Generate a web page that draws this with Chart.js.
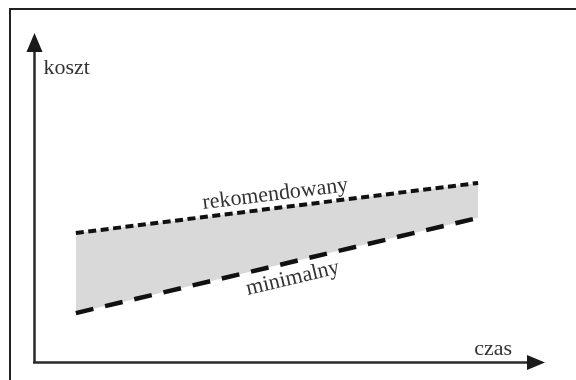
<!DOCTYPE html>
<html lang="pl">
<head>
    <meta charset="UTF-8">
    <title>koszt / czas</title>
    <script src="https://cdn.jsdelivr.net/npm/chart.js"></script>
    <style>
        body {
            margin: 0;
            background: white;
        }
        canvas {
            display: block;
        }
    </style>
</head>
<body>
    <canvas id="costChart" width="576" height="380"></canvas>

    <script>
        // values (axes run 0..100 in both directions)
        const timePoints = [8.1, 86.9];
        const recommendedCost = [39.3, 54.5];
        const minimalCost = [15.0, 43.9];
        const seriesNames = ["rekomendowany", "minimalny"];
        const axisNames = { x: "czas", y: "koszt" };

        const font = "22px 'Liberation Serif', 'Times New Roman', serif";
        const ink = "#1a1a1a";

        function arrowHead(ctx, tipX, tipY, dirX, dirY, len, half) {
            // dir = unit vector pointing towards the tip
            const bx = tipX - dirX * len, by = tipY - dirY * len;
            ctx.beginPath();
            ctx.moveTo(tipX, tipY);
            ctx.lineTo(bx - dirY * half, by + dirX * half);
            ctx.lineTo(bx + dirY * half, by - dirX * half);
            ctx.closePath();
            ctx.fill();
        }

        const drawingPlugin = {
            id: "drawing",
            afterDraw(chart) {
                const ctx = chart.ctx;
                const xs = chart.scales.x, ys = chart.scales.y;
                const x0 = xs.getPixelForValue(0), y0 = ys.getPixelForValue(0);
                const xEnd = xs.getPixelForValue(100), yEnd = ys.getPixelForValue(100);

                ctx.save();
                // outer frame of the figure (top + left only)
                ctx.strokeStyle = "#222";
                ctx.lineWidth = 2;
                ctx.beginPath();
                ctx.moveTo(576, 9);
                ctx.lineTo(10, 9);
                ctx.lineTo(10, 380);
                ctx.stroke();

                // axes with arrows
                ctx.strokeStyle = "#2a2a2a";
                ctx.fillStyle = ink;
                ctx.lineWidth = 2.5;
                ctx.beginPath();
                ctx.moveTo(x0, y0);
                ctx.lineTo(x0, yEnd + 12);
                ctx.moveTo(x0 - 1.5, y0);
                ctx.lineTo(xEnd - 12, y0);
                ctx.stroke();
                arrowHead(ctx, x0, yEnd, 0, -1, 19, 8);
                arrowHead(ctx, xEnd, y0, 1, 0, 18, 7.5);

                // axis names
                ctx.font = font;
                ctx.fillStyle = "#333";
                ctx.textBaseline = "alphabetic";
                ctx.textAlign = "left";
                ctx.fillText(axisNames.y, x0 + 9, 74);
                ctx.textAlign = "right";
                ctx.fillText(axisNames.x, xEnd - 33, 355);

                // series names, rotated along their lines
                const label = (values, text, t, offset) => {
                    const ax = xs.getPixelForValue(timePoints[0]), ay = ys.getPixelForValue(values[0]);
                    const bx = xs.getPixelForValue(timePoints[1]), by = ys.getPixelForValue(values[1]);
                    const ang = Math.atan2(by - ay, bx - ax);
                    const px = ax + (bx - ax) * t, py = ay + (by - ay) * t;
                    ctx.save();
                    ctx.translate(px, py);
                    ctx.rotate(ang);
                    ctx.textAlign = "center";
                    ctx.fillText(text, 0, offset);
                    ctx.restore();
                };
                label(recommendedCost, seriesNames[0], 0.5, -8);
                label(minimalCost, seriesNames[1], 0.53, 22);
                ctx.restore();
            }
        };

        new Chart(document.getElementById("costChart"), {
            type: "line",
            data: {
                datasets: [
                    {
                        label: seriesNames[0],
                        data: timePoints.map((t, i) => ({ x: t, y: recommendedCost[i] })),
                        borderColor: "#111",
                        borderWidth: 4,
                        borderDash: [8, 4.5],
                        borderCapStyle: "butt",
                        backgroundColor: "#d9d9d9",
                        fill: 1,
                        pointRadius: 0
                    },
                    {
                        label: seriesNames[1],
                        data: timePoints.map((t, i) => ({ x: t, y: minimalCost[i] })),
                        borderColor: "#111",
                        borderWidth: 4.5,
                        borderDash: [18, 12],
                        borderCapStyle: "butt",
                        fill: false,
                        pointRadius: 0
                    }
                ]
            },
            options: {
                responsive: false,
                animation: false,
                layout: { padding: { left: 34.5, right: 31, top: 33, bottom: 17.5 } },
                scales: {
                    x: { type: "linear", min: 0, max: 100, display: false },
                    y: { type: "linear", min: 0, max: 100, display: false }
                },
                plugins: {
                    legend: { display: false },
                    tooltip: { enabled: false },
                    filler: { drawTime: "beforeDatasetsDraw" }
                }
            },
            plugins: [drawingPlugin]
        });
    </script>
</body>
</html>
